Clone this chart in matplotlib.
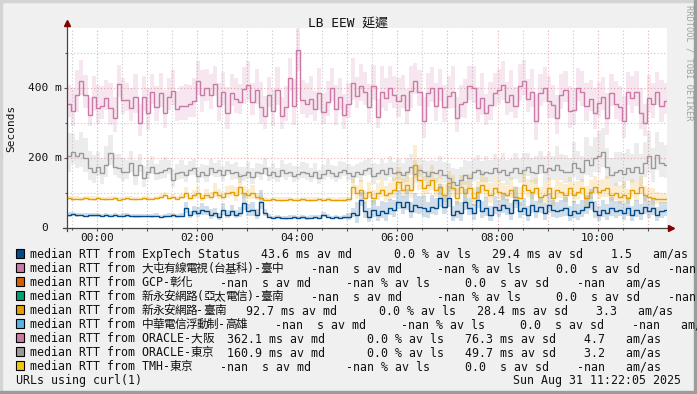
import numpy as np
import matplotlib.pyplot as plt
from matplotlib.patches import Rectangle
from matplotlib.transforms import ScaledTranslation, blended_transform_factory

# 字體: 等寬 + 中文後備
MONO = ['DejaVu Sans Mono', 'Noto Sans CJK TC']
plt.rcParams['font.family'] = MONO

# 時間軸: 每 5 分鐘一筆, 從 23:24 開始 (以 00:00 為 0 分鐘)
start_min = -36
step_min = 5

# 中位數 RTT (ms)
rtt_osaka = [
    355, 335, 381, 419, 381, 324, 374,
    343, 350, 371, 343, 314, 411, 367, 367, 343, 374, 300, 376,
    329, 390, 345, 385, 330, 375, 392, 340, 348, 350, 355, 362,
    419, 381, 400, 381, 412, 350, 390, 330, 385, 370, 360, 398,
    410, 360, 395, 345, 320, 380, 335, 395, 320, 345, 430, 348,
    510, 365, 355, 368, 340, 385, 333, 360, 400, 340, 375, 322,
    355, 414, 378, 405, 390, 345, 405, 319, 390, 372, 400, 380,
    362, 380, 338, 392, 419, 390, 305, 385, 400, 350, 400, 345,
    378, 390, 314, 355, 360, 405, 400, 342, 372, 330, 352, 385,
    395, 410, 360, 380, 350, 405, 419, 370, 390, 305, 385, 400,
    362, 352, 314, 380, 395, 335, 338, 400, 390, 350, 370, 330,
    357, 375, 314, 386, 355, 345, 305, 390, 372, 390, 330, 300,
    372, 355, 390, 350, 362,
]
rtt_tokyo = [
    205, 219, 205, 214, 200, 171, 162,
    176, 157, 181, 214, 176, 171, 162, 162, 186, 152, 181, 143,
    162, 176, 157, 162, 167, 171, 138, 157, 162, 152, 167, 171,
    148, 160, 152, 171, 162, 165, 152, 167, 157, 160, 148, 152,
    160, 145, 162, 157, 171, 152, 160, 148, 165, 157, 162, 150,
    155, 162, 157, 148, 160, 143, 155, 167, 157, 150, 162, 165,
    157, 148, 160, 155, 167, 171, 150, 157, 165, 155, 171, 157,
    162, 152, 160, 176, 155, 167, 160, 150, 162, 157, 167, 152,
    143, 133, 124, 138, 152, 143, 160, 167, 155, 162, 157, 171,
    160, 167, 152, 162, 171, 157, 165, 176, 160, 157, 181, 162,
    171, 165, 181, 167, 162, 160, 186, 171, 162, 195, 181, 200,
    205, 219, 176, 152, 160, 167, 155, 171, 162, 176, 157, 186,
    205, 171, 210, 186, 181,
]
rtt_tainan = [
    86, 84, 85, 83, 86, 85, 84,
    86, 84, 83, 85, 86, 82, 84, 86, 85, 83, 84, 86,
    85, 84, 86, 90, 95, 86, 90, 85, 90, 100, 86, 95,
    100, 86, 95, 90, 105, 95, 90, 100, 105, 95, 119, 100,
    95, 100, 90, 86, 82, 81, 83, 82, 81, 82, 83, 81,
    81, 83, 82, 81, 82, 84, 81, 83, 82, 80, 82, 81,
    83, 119, 100, 110, 86, 105, 86, 100, 110, 95, 100, 110,
    133, 110, 124, 110, 181, 138, 114, 124, 138, 110, 119, 95,
    128, 114, 86, 119, 100, 114, 86, 105, 124, 110, 95, 114,
    105, 100, 95, 110, 90, 86, 124, 110, 105, 114, 90, 95,
    114, 86, 110, 105, 95, 114, 95, 105, 114, 86, 105, 119,
    105, 110, 114, 95, 100, 90, 95, 86, 110, 100, 119, 95,
    90, 86, 83, 84, 83,
]
rtt_exptech = [
    38, 40, 37, 38, 36, 38, 37,
    38, 35, 37, 36, 38, 35, 36, 37, 36, 34, 35, 36,
    35, 34, 36, 33, 35, 36, 37, 34, 36, 57, 38, 48,
    43, 52, 48, 38, 43, 33, 52, 38, 48, 38, 43, 71,
    48, 52, 38, 76, 43, 33, 30, 31, 30, 29, 30, 31,
    30, 31, 29, 30, 31, 30, 38, 33, 30, 31, 30, 31,
    33, 43, 38, 81, 48, 33, 52, 38, 48, 43, 57, 52,
    76, 62, 76, 48, 67, 62, 57, 48, 62, 57, 86, 62,
    86, 38, 48, 43, 76, 57, 43, 81, 48, 57, 38, 62,
    52, 67, 57, 43, 81, 48, 57, 38, 67, 48, 62, 43,
    67, 52, 48, 52, 57, 38, 48, 43, 52, 62, 76, 48,
    38, 52, 43, 57, 48, 52, 43, 57, 38, 52, 43, 62,
    48, 57, 38, 48, 52,
]

# 煙霧 (ping 分佈寬度, ms)
smoke_osaka = [
    90, 110, 120, 100, 95, 80, 100,
    110, 95, 85, 120, 100, 90, 105, 80, 95, 110, 90, 100,
    120, 85, 100, 95, 110, 90, 100, 85, 95, 105, 90, 110,
    95, 120, 90, 100, 85, 110, 95, 120, 90, 100, 85, 105,
    110, 90, 100, 120, 95, 85, 105, 110, 90, 100, 95, 130,
    150, 95, 100, 110, 85, 120, 90, 100, 95, 115, 90, 100,
    100, 120, 90, 105, 95, 110, 100, 85, 120, 95, 105, 90,
    110, 95, 100, 120, 90, 105, 115, 95, 100, 110, 90, 105,
    95, 120, 100, 90, 110, 95, 105, 100, 120, 90, 110, 95,
    100, 110, 95, 120, 90, 105, 100, 95, 110, 130, 90, 100,
    120, 95, 110, 100, 90, 120, 105, 95, 100, 110, 90, 115,
    100, 95, 120, 90, 110, 100, 120, 95, 105, 100, 115, 90,
    110, 100, 95, 120, 90,
]
smoke_tokyo = [
    110, 90, 80, 100, 95, 85, 80,
    70, 75, 90, 85, 60, 70, 65, 55, 60, 70, 50, 60,
    55, 50, 45, 55, 60, 40, 50, 45, 55, 50, 40, 45,
    45, 40, 50, 45, 40, 50, 45, 40, 45, 50, 45, 40,
    50, 45, 40, 45, 50, 40, 45, 40, 50, 45, 40, 45,
    40, 45, 50, 40, 45, 40, 45, 50, 40, 45, 50, 40,
    45, 50, 40, 55, 45, 50, 60, 45, 55, 50, 60, 55,
    60, 55, 70, 60, 65, 55, 60, 70, 55, 60, 65, 60,
    70, 65, 75, 60, 70, 80, 65, 70, 60, 75, 65, 70,
    65, 80, 70, 60, 75, 70, 85, 65, 70, 80, 65, 75,
    80, 70, 90, 75, 80, 70, 100, 85, 75, 110, 90, 100,
    120, 110, 90, 80, 95, 85, 100, 90, 85, 110, 90, 100,
    120, 95, 110, 100, 95,
]
smoke_tainan = [
    10, 12, 10, 11, 12, 10, 12,
    11, 10, 12, 10, 11, 12, 10, 11, 10, 12, 11, 10,
    12, 10, 11, 14, 16, 12, 15, 11, 14, 30, 15, 25,
    35, 20, 30, 25, 40, 30, 25, 35, 30, 40, 60, 35,
    30, 40, 20, 15, 12, 10, 11, 10, 12, 10, 11, 10,
    10, 11, 10, 12, 10, 11, 10, 12, 10, 11, 10, 12,
    12, 50, 40, 45, 35, 45, 40, 50, 55, 45, 50, 60,
    70, 55, 65, 60, 95, 70, 60, 65, 70, 55, 60, 50,
    60, 65, 50, 55, 60, 70, 55, 50, 65, 60, 55, 50,
    55, 50, 45, 60, 50, 55, 60, 50, 55, 50, 45, 60,
    50, 55, 60, 45, 50, 55, 60, 50, 45, 60, 55, 50,
    55, 50, 60, 45, 50, 55, 60, 45, 50, 55, 50, 45,
    40, 50, 35, 30, 30,
]
smoke_exptech = [
    12, 10, 11, 10, 12, 11, 10,
    11, 10, 12, 10, 11, 10, 12, 11, 10, 12, 11, 10,
    10, 12, 11, 10, 12, 11, 10, 12, 11, 30, 20, 25,
    30, 35, 25, 30, 25, 20, 35, 25, 30, 25, 30, 50,
    35, 40, 30, 55, 20, 12, 10, 11, 10, 12, 11, 10,
    10, 11, 10, 12, 10, 11, 15, 12, 10, 11, 10, 12,
    20, 25, 60, 40, 45, 40, 50, 45, 50, 55, 45, 50,
    55, 50, 60, 45, 55, 50, 60, 45, 55, 50, 65, 50,
    60, 45, 50, 55, 60, 50, 45, 60, 50, 55, 45, 50,
    50, 55, 45, 50, 60, 45, 50, 45, 55, 50, 45, 50,
    55, 50, 45, 50, 55, 45, 50, 45, 50, 55, 60, 50,
    45, 50, 45, 55, 50, 45, 50, 55, 45, 50, 45, 55,
    50, 45, 40, 45, 40,
]

series = [
    (rtt_osaka, smoke_osaka, '#CC79A7'),
    (rtt_tokyo, smoke_tokyo, '#999999'),
    (rtt_tainan, smoke_tainan, '#E69F00'),
    (rtt_exptech, smoke_exptech, '#004B8C'),
]

legend_colors = ['#004B8C', '#CC79A7', '#D55E00', '#009E73', '#E69F00',
                 '#56B4E9', '#CC79A7', '#999999', '#F5C710']
legend_texts = [
    'median RTT from ExpTech Status   43.6 ms av md      0.0 % av ls   29.4 ms av sd    1.5   am/as',
    'median RTT from 大屯有線電視(台基科)-臺中    -nan  s av md     -nan % av ls     0.0  s av sd    -nan   am/as',
    'median RTT from GCP-彰化    -nan  s av md     -nan % av ls     0.0  s av sd    -nan   am/as',
    'median RTT from 新永安網路(亞太電信)-臺南    -nan  s av md     -nan % av ls     0.0  s av sd    -nan   am/as',
    'median RTT from 新永安網路-臺南   92.7 ms av md      0.0 % av ls   28.4 ms av sd    3.3   am/as',
    'median RTT from 中華電信浮動制-高雄    -nan  s av md     -nan % av ls     0.0  s av sd    -nan   am/as',
    'median RTT from ORACLE-大阪  362.1 ms av md      0.0 % av ls   76.3 ms av sd    4.7   am/as',
    'median RTT from ORACLE-東京  160.9 ms av md      0.0 % av ls   49.7 ms av sd    3.2   am/as',
    'median RTT from TMH-東京    -nan  s av md     -nan % av ls     0.0  s av sd    -nan   am/as',
]

hour_ticks = [0, 60, 120, 180, 240, 300, 360, 420, 480, 540, 600, 660]
hour_labels = ['00:00', '', '02:00', '', '04:00', '', '06:00', '', '08:00', '', '10:00', '']
y_ticks = [0, 200, 400]
y_labels = ['0  ', '200 m', '400 m']

W, H = 697, 394
ASCII_W, WIDE_W = 7.0, 10.9   # 每字前進寬度 (px)
MONO_PT = ASCII_W / 0.602 * 0.72


def fx(px):
    return px / W


def fy(py):
    return 1 - py / H


def is_wide(ch):
    return ord(ch) >= 0x2E80


def draw_line(fig, x, y, text):
    # 半形與全形分段畫, 讓字寬接近 rrdtool
    runs = []
    for ch in text:
        w = is_wide(ch)
        if runs and runs[-1][0] == w:
            runs[-1][1] += ch
        else:
            runs.append([w, ch])
    for w, s in runs:
        if w:
            # 每個全形字獨立擺, 字形可以比前進寬度大一點
            for i, ch in enumerate(s):
                fig.text(fx(x + WIDE_W * (i + 0.5)), fy(y + 0.3), ch, ha='center', va='baseline',
                         family='Noto Sans CJK TC', fontsize=8.4, color='#111111')
            x += WIDE_W * len(s)
        else:
            fig.text(fx(x), fy(y), s, ha='left', va='baseline', family='DejaVu Sans Mono',
                     fontsize=MONO_PT, color='#111111')
            x += ASCII_W * len(s)


def main():
    fig = plt.figure(figsize=(W / 100, H / 100), dpi=100, facecolor='#f0f0f0')

    # rrdtool 式邊框
    fig.patches.append(Rectangle((0, fy(2)), 1, fy(0) - fy(2), transform=fig.transFigure, color='#d4d4d4', zorder=0))
    fig.patches.append(Rectangle((0, 0), fx(2), 1, transform=fig.transFigure, color='#d4d4d4', zorder=0))
    fig.patches.append(Rectangle((0, 0), 1, fy(391), transform=fig.transFigure, color='#9c9c9c', zorder=0))
    fig.patches.append(Rectangle((fx(694), 0), 1 - fx(694), 1, transform=fig.transFigure, color='#9c9c9c', zorder=0))

    ax = fig.add_axes([fx(66.7), fy(228.3), fx(667) - fx(66.7), fy(27.5) - fy(228.3)])
    ax.set_facecolor('white')

    n = len(rtt_osaka)
    edges = start_min + step_min * np.arange(n + 1)

    # 煙霧
    for med, spread, color in series:
        med = np.array(med, dtype=float)
        spread = np.array(spread, dtype=float)
        ax.stairs(med + 0.6 * spread, edges, baseline=med - 0.4 * spread, fill=True,
                  color=color, alpha=0.18, lw=0, zorder=2)
    # 中位數線
    for med, spread, color in series:
        ax.stairs(med, edges, baseline=None, color=color, lw=1.0, zorder=3)

    ax.set_xlim(-36, 683)
    ax.set_ylim(0, 573)

    ax.set_xticks(hour_ticks)
    ax.set_xticklabels(hour_labels)
    ax.set_xticks([t + 30 for t in [-60] + hour_ticks[:-1]], minor=True)
    ax.set_yticks(y_ticks)
    ax.set_yticklabels([])
    ax.set_yticks([100, 300, 500], minor=True)

    ax.grid(which='major', color='#f0a8a8', linestyle=(0, (1, 2)), lw=0.8, zorder=1)
    ax.grid(which='minor', color='#c8c8c8', linestyle=(0, (1, 2)), lw=0.8, zorder=1)

    ax.tick_params(which='both', direction='out', length=2, width=0.8, color='#555555',
                   labelsize=8, pad=1.5, labelcolor='#111111')
    ax.tick_params(which='minor', length=1.5)

    # y 軸刻度文字 (等寬, "0" 後面留單位空位)
    ytrans = blended_transform_factory(ax.transAxes, ax.transData) + \
        ScaledTranslation(-5 / 100, 0, fig.dpi_scale_trans)
    for v, lab in zip(y_ticks, y_labels):
        ax.text(0, v, lab.rstrip(), transform=ytrans if lab == lab.rstrip() else
                ytrans + ScaledTranslation(-ASCII_W * (len(lab) - len(lab.rstrip())) / 100, 0,
                                           fig.dpi_scale_trans),
                ha='right', va='center', fontsize=8, color='#111111', family='DejaVu Sans Mono')

    for s in ax.spines.values():
        s.set_visible(False)
    ax.plot([-0.006, 1.003], [0, 0], transform=ax.transAxes, color='#444444', lw=0.9, clip_on=False, zorder=5)
    ax.plot([0, 0], [-0.012, 1.01], transform=ax.transAxes, color='#444444', lw=0.9, clip_on=False, zorder=5)
    ax.plot([1.006], [0], marker='>', transform=ax.transAxes, color='#7f0000', ms=4, clip_on=False, zorder=6)
    ax.plot([0], [1.02], marker='^', transform=ax.transAxes, color='#7f0000', ms=4, clip_on=False, zorder=6)

    fig.text(fx(348), fy(27), 'LB EEW 延遲', ha='center', va='baseline', fontsize=9.3, color='#111111')
    fig.text(fx(11), fy(128), 'Seconds', ha='center', va='center', rotation=90, fontsize=8, color='#111111')
    fig.text(fx(688.5), fy(5), 'RRDTOOL / TOBI OETIKER', ha='center', va='top', rotation=270,
             fontsize=6.2, color='#a0a0a0')

    # 圖例
    for k, (c, t) in enumerate(zip(legend_colors, legend_texts)):
        yc = 253.7 + 14 * k
        fig.patches.append(Rectangle((fx(15.5), fy(yc + 4.2)), fx(8.4), fy(0) - fy(8.4),
                                     transform=fig.transFigure, facecolor=c, edgecolor='black', lw=0.8))
        draw_line(fig, 30, yc + 4.3, t)
    draw_line(fig, 16, 383.9, 'URLs using curl(1)')
    fig.text(fx(681), fy(383.9), 'Sun Aug 31 11:22:05 2025', ha='right', va='baseline',
             fontsize=MONO_PT, color='#111111')

    fig.savefig('out.png', dpi=100, facecolor=fig.get_facecolor())


if __name__ == '__main__':
    main()
